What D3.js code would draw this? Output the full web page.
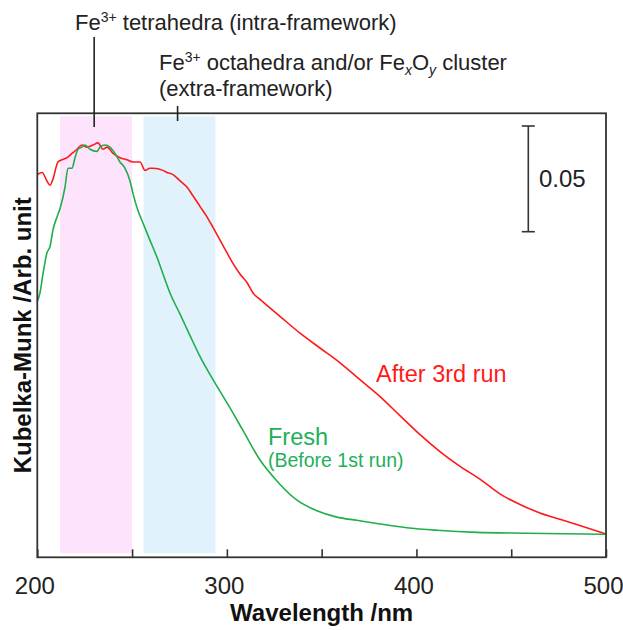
<!DOCTYPE html>
<html>
<head>
<meta charset="utf-8">
<script src="https://cdn.jsdelivr.net/npm/d3@7"></script>
<style>
  body { margin: 0; background: #fff; }
  text { font-family: "Liberation Sans", Arial, sans-serif; }
</style>
</head>
<body>
<div id="chart"></div>
<script>
// ============== Data ==============
// wavelength (nm) and Kubelka-Munk value
const afterWl = [200, 202.5, 205.1, 206.7, 208.3, 210.9, 213, 215.7, 218.3, 220.9, 223.6, 226.2, 229.4, 232,
  234.7, 236.8, 240, 243.6, 247.3, 250.5, 254.2, 256.8, 259.4, 261, 266.3, 268.4, 271.6, 275.3, 279, 282.1,
  285.8, 289.5, 292.7, 296.4, 300.1, 303.2, 306.9, 310.6, 313.8, 317.5, 328, 338.6, 349.1, 359.7, 370.2,
  380.8, 391.3, 401.9, 412.4, 423, 433.5, 444, 454.6, 465.1, 475.7, 486.2, 500];
const afterKM = [0.181, 0.182, 0.178, 0.176, 0.179, 0.187, 0.188, 0.189, 0.191, 0.193, 0.195, 0.194, 0.195, 0.196,
  0.193, 0.194, 0.191, 0.189, 0.188, 0.187, 0.187, 0.183, 0.184, 0.184, 0.183, 0.182, 0.181, 0.178, 0.175, 0.171,
  0.166, 0.161, 0.156, 0.150, 0.144, 0.139, 0.134, 0.130, 0.125, 0.122, 0.114, 0.106, 0.099, 0.092, 0.084,
  0.076, 0.067, 0.058, 0.050, 0.043, 0.037, 0.030, 0.025, 0.021, 0.018, 0.015, 0.011];

const freshWl = [200, 201.4, 203, 205.1, 206.7, 208.3, 210.4, 212, 214.6, 216.2, 218.3, 219.9, 221.5, 223.6,
  225.2, 227.8, 231.5, 233.1, 235.7, 238.3, 241, 243.6, 246.3, 248.9, 250.5, 253.1, 255.8, 259.4, 263.1,
  266.3, 270, 275.3, 280.5, 285.8, 292.7, 300.1, 308.5, 317.5, 326.5, 337, 347.5, 358, 368.6, 379.1, 394.9,
  410.8, 431.9, 458.2, 500];
const freshKM = [0.121, 0.125, 0.134, 0.144, 0.147, 0.155, 0.161, 0.165, 0.175, 0.184, 0.184, 0.189, 0.193, 0.194,
  0.195, 0.193, 0.192, 0.194, 0.195, 0.194, 0.191, 0.187, 0.184, 0.178, 0.172, 0.164, 0.158, 0.150, 0.142,
  0.134, 0.125, 0.115, 0.105, 0.095, 0.084, 0.073, 0.060, 0.046, 0.036, 0.027, 0.022, 0.019, 0.0175, 0.016, 0.014,
  0.0128, 0.0118, 0.0114, 0.0109];

// shaded regions (nm)
const bandFrom = [212, 256];
const bandTo = [250, 294];
const bandColors = ['#fde3fb', '#e2f2fd'];

// x ticks
const majorTicks = [200, 300, 400, 500];
const minorTicks = [250, 350, 450];

// callout positions (nm)
const tetraWl = 230;
const octaWl = 274;

// scale bar
const scaleBarTop = 0.204;
const scaleBarValue = 0.05;

const width = 623, height = 630;
const margin = {top: 113.3, right: 17, bottom: 72.7, left: 37.3};

const svg = d3.select('#chart').append('svg')
  .attr('width', width)
  .attr('height', height);

// ============== Scales ==============
const x = d3.scaleLinear()
  .domain([200, 500])
  .range([margin.left, width - margin.right]);

const y = d3.scaleLinear()
  .domain([0, 0.21])
  .range([height - margin.bottom, margin.top]);

const plotTop = y(0.21), plotBottom = y(0);

// ============== Bands ==============
svg.selectAll('.band')
  .data(bandFrom.map((d, i) => ({from: d, to: bandTo[i], color: bandColors[i]})))
  .enter()
  .append('rect')
    .attr('class', 'band')
    .attr('x', d => x(d.from))
    .attr('width', d => x(d.to) - x(d.from))
    .attr('y', plotTop + 3)
    .attr('height', plotBottom - plotTop - 7)
    .attr('fill', d => d.color);

// ============== Curves ==============
const line = d3.line()
  .x(d => x(d[0]))
  .y(d => y(d[1]))
  .curve(d3.curveMonotoneX);

svg.append('path')
  .datum(afterWl.map((d, i) => [d, afterKM[i]]))
  .attr('d', line)
  .attr('fill', 'none')
  .attr('stroke', '#ff1a1a')
  .attr('stroke-width', 1.6)
  .attr('stroke-linejoin', 'round');

svg.append('path')
  .datum(freshWl.map((d, i) => [d, freshKM[i]]))
  .attr('d', line)
  .attr('fill', 'none')
  .attr('stroke', '#1fae4a')
  .attr('stroke-width', 1.6)
  .attr('stroke-linejoin', 'round');

// ============== Frame & axis ==============
svg.append('rect')
  .attr('x', x(200))
  .attr('y', plotTop)
  .attr('width', x(500) - x(200))
  .attr('height', plotBottom - plotTop)
  .attr('fill', 'none')
  .attr('stroke', '#333')
  .attr('stroke-width', 1.8);

const xAxis = svg.append('g')
  .attr('transform', `translate(0,${plotBottom})`)
  .call(d3.axisBottom(x)
    .tickValues(majorTicks)
    .tickSizeInner(-8)
    .tickSizeOuter(0)
    .tickPadding(20)
    .tickFormat(d3.format('d')));

xAxis.select('.domain').remove();
xAxis.selectAll('line').attr('stroke', '#333').attr('stroke-width', 1.6);
xAxis.selectAll('text')
  .attr('font-size', 24)
  .attr('fill', '#222')
  .attr('dx', -3)
  .style('font-family', '"Liberation Sans", Arial, sans-serif');

svg.append('g')
  .attr('transform', `translate(0,${plotBottom})`)
  .call(d3.axisBottom(x).tickValues(minorTicks).tickSizeInner(-8).tickSizeOuter(0).tickFormat(''))
  .call(g => g.select('.domain').remove())
  .selectAll('line').attr('stroke', '#333').attr('stroke-width', 1.6);

// ============== Axis titles ==============
svg.append('text')
  .text('Wavelength /nm')
  .attr('x', (x(200) + x(500)) / 2)
  .attr('y', 621)
  .attr('text-anchor', 'middle')
  .attr('font-size', 24)
  .attr('font-weight', 'bold')
  .attr('fill', '#111');

svg.append('text')
  .text('Kubelka-Munk /Arb. unit')
  .attr('transform', `translate(31,${(plotTop + plotBottom) / 2}) rotate(-90)`)
  .attr('text-anchor', 'middle')
  .attr('font-size', 24)
  .attr('font-weight', 'bold')
  .attr('fill', '#111');

// ============== Scale bar ==============
const barX = 528.3;
const barG = svg.append('g').attr('stroke', '#333').attr('stroke-width', 1.6);
barG.append('line')
  .attr('x1', barX).attr('x2', barX)
  .attr('y1', y(scaleBarTop)).attr('y2', y(scaleBarTop - scaleBarValue));
[scaleBarTop, scaleBarTop - scaleBarValue].forEach(v => {
  barG.append('line')
    .attr('x1', barX - 6.5).attr('x2', barX + 6.5)
    .attr('y1', y(v)).attr('y2', y(v));
});
svg.append('text')
  .text(scaleBarValue)
  .attr('x', 539)
  .attr('y', (y(scaleBarTop) + y(scaleBarTop - scaleBarValue)) / 2 + 8.5)
  .attr('font-size', 24)
  .attr('fill', '#222');

// ============== Callouts ==============
const callout1 = svg.append('text')
  .attr('x', 75)
  .attr('y', 30)
  .attr('font-size', 22)
  .attr('fill', '#222');
callout1.append('tspan').text('Fe');
callout1.append('tspan').text('3+').attr('font-size', 14).attr('dy', -8);
callout1.append('tspan').text(' tetrahedra (intra-framework)').attr('dy', 8);

const callout2 = svg.append('text')
  .attr('x', 159)
  .attr('y', 70)
  .attr('font-size', 22)
  .attr('fill', '#222');
callout2.append('tspan').text('Fe');
callout2.append('tspan').text('3+').attr('font-size', 14).attr('dy', -8);
callout2.append('tspan').text(' octahedra and/or Fe').attr('dy', 8);
callout2.append('tspan').text('x').attr('font-size', 14).attr('font-style', 'italic').attr('dy', 5);
callout2.append('tspan').text('O').attr('dy', -5);
callout2.append('tspan').text('y').attr('font-size', 14).attr('font-style', 'italic').attr('dy', 5);
callout2.append('tspan').text(' cluster').attr('dy', -5);

svg.append('text')
  .text('(extra-framework)')
  .attr('x', 159)
  .attr('y', 96)
  .attr('font-size', 22)
  .attr('fill', '#222');

svg.append('line')
  .attr('x1', x(tetraWl)).attr('x2', x(tetraWl))
  .attr('y1', 37).attr('y2', 127)
  .attr('stroke', '#222').attr('stroke-width', 1.6);

svg.append('line')
  .attr('x1', x(octaWl)).attr('x2', x(octaWl))
  .attr('y1', 106).attr('y2', 121)
  .attr('stroke', '#222').attr('stroke-width', 1.6);

// ============== Curve labels ==============
svg.append('text')
  .text('After 3rd run')
  .attr('x', 376)
  .attr('y', 382)
  .attr('font-size', 23.5)
  .attr('fill', '#ff1a1a');

svg.append('text')
  .text('Fresh')
  .attr('x', 268)
  .attr('y', 445)
  .attr('font-size', 23.5)
  .attr('fill', '#22b05a');

svg.append('text')
  .text('(Before 1st run)')
  .attr('x', 268)
  .attr('y', 467)
  .attr('font-size', 19.5)
  .attr('fill', '#22b05a');
</script>
</body>
</html>
